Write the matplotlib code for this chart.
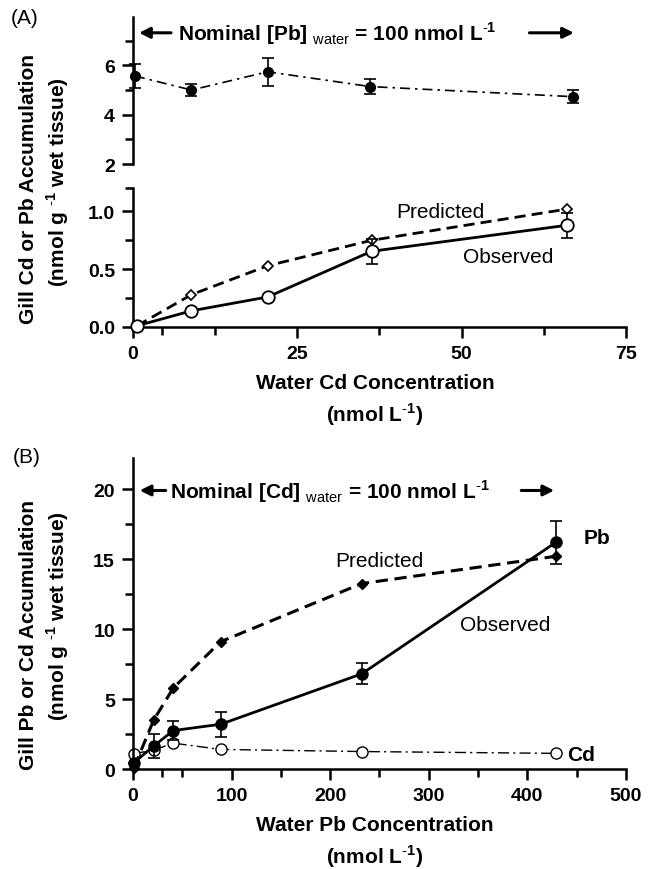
import numpy as np
import matplotlib
matplotlib.use('Agg')
import matplotlib.pyplot as plt
from matplotlib.ticker import FixedLocator

plt.rcParams['font.family'] = ['Liberation Sans', 'DejaVu Sans']
plt.rcParams['mathtext.fontset'] = 'custom'
plt.rcParams['mathtext.rm'] = 'Liberation Sans'
plt.rcParams['mathtext.bf'] = 'Liberation Sans:bold'

# Panel A: water Cd series, Pb held at 100 nmol/L
cd_water = [0.6, 8.9, 20.5, 36.3, 66.0]
cd_obs = [0.01, 0.14, 0.26, 0.655, 0.88]
cd_obs_err = [0, 0, 0, 0.11, 0.11]
cd_pred = [0.01, 0.28, 0.53, 0.75, 1.02]
pb_fixed_x = [0.3, 8.9, 20.5, 36.1, 67.0]
pb_fixed = [5.57, 5.0, 5.74, 5.14, 4.73]
pb_fixed_err = [0.47, 0.24, 0.57, 0.3, 0.27]

# Panel B: water Pb series, Cd held at 100 nmol/L
pb_water = [1, 21, 41, 89, 232, 429]
pb_obs = [0.45, 1.65, 2.75, 3.2, 6.8, 16.2]
pb_obs_err = [0, 0.83, 0.7, 0.9, 0.75, 1.55]
pb_pred = [0.1, 3.5, 5.8, 9.1, 13.25, 15.2]
cd_fixed = [1.1, 1.35, 1.85, 1.4, 1.25, 1.12]

LW = 1.8
FS = 14
SUP = r'$^{\mathbf{\text{-}1}}$'


def style(ax):
    for s in ['top', 'right']:
        ax.spines[s].set_visible(False)
    for s in ['left', 'bottom']:
        ax.spines[s].set_linewidth(LW)
    ax.tick_params(which='major', direction='out', length=8, width=LW, labelsize=FS, pad=5)
    ax.tick_params(which='minor', direction='out', length=5.5, width=LW)
    for lab in ax.get_xticklabels() + ax.get_yticklabels():
        lab.set_fontweight('bold')


fig = plt.figure(figsize=(6.49, 8.7), dpi=100)
axA1 = fig.add_axes([0.2049, 0.8103, 0.7596, 0.1687])
axA2 = fig.add_axes([0.2049, 0.623, 0.7596, 0.1594])
axB = fig.add_axes([0.2049, 0.1149, 0.7596, 0.3572])

# ---- Panel A, top: Pb accumulation
axA1.errorbar(pb_fixed_x, pb_fixed, yerr=pb_fixed_err, fmt='o', color='k', ms=7,
              capsize=4, elinewidth=1.2, capthick=1.2, clip_on=False, zorder=3)
axA1.plot(pb_fixed_x, pb_fixed, color='k', lw=1.2, ls=(0, (6, 3, 1.5, 3)), zorder=2)
axA1.set_xlim(0, 75)
axA1.set_ylim(2, 7.95)
axA1.set_yticks([2, 4, 6])
axA1.yaxis.set_minor_locator(FixedLocator([3, 5, 7]))
style(axA1)
axA1.spines['bottom'].set_visible(False)
axA1.set_xticks([])
axA1.text(6.9, 7.32, r'Nominal [Pb] $_{\mathrm{water}}$ = 100 nmol L' + SUP,
          fontsize=15, fontweight='bold', va='center', ha='left')
axA1.annotate('', xy=(0.5, 7.32), xytext=(6.2, 7.32), annotation_clip=False,
              arrowprops=dict(arrowstyle='-|>', lw=2.2, color='k', mutation_scale=16))
axA1.annotate('', xy=(67.5, 7.32), xytext=(59.9, 7.32), annotation_clip=False,
              arrowprops=dict(arrowstyle='-|>', lw=2.2, color='k', mutation_scale=16))

# ---- Panel A, bottom: Cd accumulation
axA2.plot(cd_water, cd_pred, color='k', lw=2, ls=(0, (4, 2.2)), marker='D', ms=5.5,
          mfc='white', mec='k', mew=1.2, clip_on=False, zorder=2)
axA2.plot(cd_water, cd_obs, color='k', lw=2, marker='o', ms=9, mfc='white', mec='k',
          mew=1.3, clip_on=False, zorder=3)
axA2.errorbar(cd_water, cd_obs, yerr=cd_obs_err, fmt='none', ecolor='k', capsize=4,
              elinewidth=1.2, capthick=1.2, zorder=2.5)
axA2.set_xlim(0, 75)
axA2.set_ylim(0, 1.2)
axA2.set_xticks([0, 25, 50, 75])
axA2.set_yticks([0, 0.5, 1.0])
axA2.set_yticklabels(['0.0', '0.5', '1.0'])
axA2.xaxis.set_minor_locator(FixedLocator([4.4, 12.5, 37.5, 62.5]))
axA2.yaxis.set_minor_locator(FixedLocator([0.25, 0.75, 1.2]))
style(axA2)
axA2.text(46.7, 1.0, 'Predicted', fontsize=15, ha='center', va='center')
axA2.text(57.1, 0.613, 'Observed', fontsize=15, ha='center', va='center')

# ---- Panel B
axB.plot(pb_water, cd_fixed, color='k', lw=1.0, ls=(0, (8, 3, 1.5, 3)), marker='o', ms=8,
         mfc='white', mec='k', mew=1.0, clip_on=False, zorder=2)
axB.plot(pb_water, pb_pred, color='k', lw=2.2, ls=(0, (4, 2.2)), marker='D', ms=5,
         clip_on=False, zorder=3)
axB.errorbar(pb_water, pb_obs, yerr=pb_obs_err, fmt='-o', color='k', lw=2, ms=8,
             capsize=4, elinewidth=1.2, capthick=1.2, clip_on=False, zorder=4)
axB.set_xlim(0, 500)
axB.set_ylim(0, 22.2)
axB.set_xticks([0, 100, 200, 300, 400, 500])
axB.set_yticks([0, 5, 10, 15, 20])
axB.xaxis.set_minor_locator(FixedLocator([29, 50, 150, 250, 350, 450]))
axB.yaxis.set_minor_locator(FixedLocator([2.5, 7.5, 12.5, 17.5]))
style(axB)
axB.text(250, 14.93, 'Predicted', fontsize=15, ha='center', va='center')
axB.text(377.6, 10.36, 'Observed', fontsize=15, ha='center', va='center')
axB.text(471, 16.55, 'Pb', fontsize=15, fontweight='bold', ha='center', va='center')
axB.text(454, 1.07, 'Cd', fontsize=15, fontweight='bold', ha='center', va='center')
axB.text(37.6, 19.9, r'Nominal [Cd] $_{\mathrm{water}}$ = 100 nmol L' + SUP,
         fontsize=15, fontweight='bold', va='center', ha='left')
axB.annotate('', xy=(4, 19.9), xytext=(36, 19.9), annotation_clip=False,
             arrowprops=dict(arrowstyle='-|>', lw=2.2, color='k', mutation_scale=16))
axB.annotate('', xy=(430, 19.9), xytext=(391, 19.9), annotation_clip=False,
             arrowprops=dict(arrowstyle='-|>', lw=2.2, color='k', mutation_scale=16))

# ---- labels
W, H = 649.0, 870.0
fig.text(25 / W, 1 - 18 / H, '(A)', fontsize=15, ha='center', va='center')
fig.text(27 / W, 1 - 458 / H, '(B)', fontsize=15, ha='center', va='center')
fig.text(29 / W, 1 - 189 / H, 'Gill Cd or Pb Accumulation', rotation=90, fontsize=15,
         fontweight='bold', ha='center', va='center')
fig.text(58 / W, 1 - 182 / H, '(nmol g ' + SUP + ' wet tissue)', rotation=90, fontsize=15,
         fontweight='bold', ha='center', va='center')
fig.text(29 / W, 1 - 635 / H, 'Gill Pb or Cd Accumulation', rotation=90, fontsize=15,
         fontweight='bold', ha='center', va='center')
fig.text(58 / W, 1 - 616 / H, '(nmol g ' + SUP + ' wet tissue)', rotation=90, fontsize=15,
         fontweight='bold', ha='center', va='center')
fig.text(375 / W, 1 - 384 / H, 'Water Cd Concentration', fontsize=15, fontweight='bold',
         ha='center', va='center')
fig.text(375 / W, 1 - 415 / H, '(nmol L' + SUP + ')', fontsize=15, fontweight='bold',
         ha='center', va='center')
fig.text(375 / W, 1 - 826 / H, 'Water Pb Concentration', fontsize=15, fontweight='bold',
         ha='center', va='center')
fig.text(375 / W, 1 - 857 / H, '(nmol L' + SUP + ')', fontsize=15, fontweight='bold',
         ha='center', va='center')

fig.savefig('out.png', dpi=100)
